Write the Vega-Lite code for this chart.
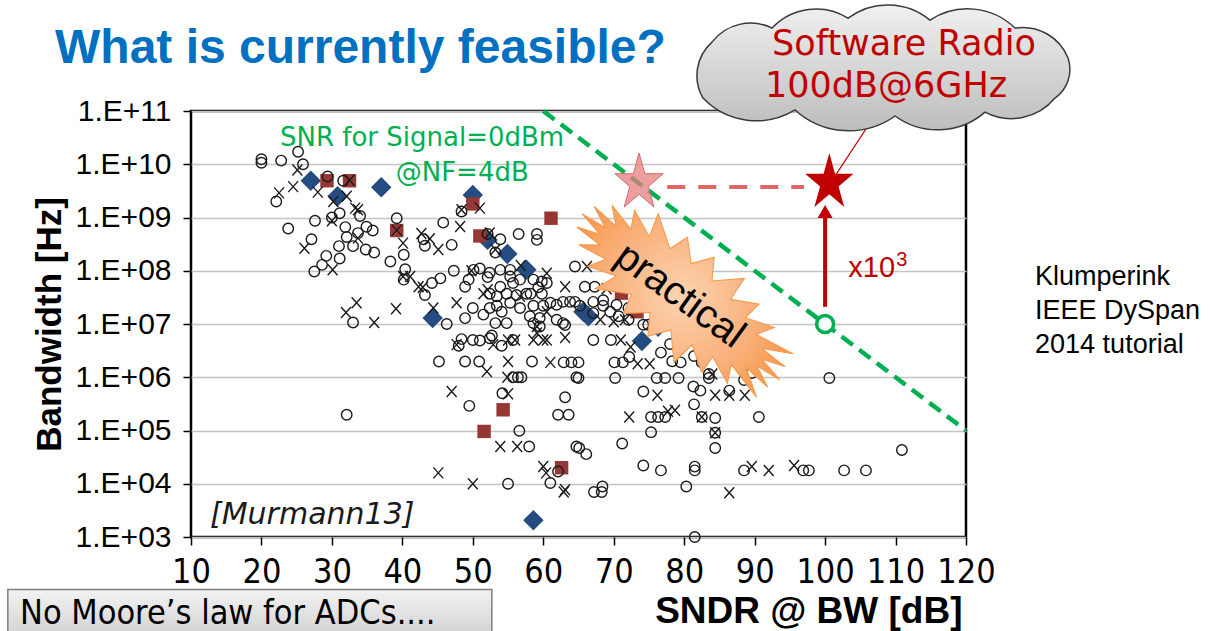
{
  "$schema": "https://vega.github.io/schema/vega-lite/v6.json",
  "width": 775,
  "height": 426,
  "autosize": {"type": "none"},
  "padding": {"left": 191, "top": 111, "right": 248, "bottom": 94},
  "background": "white",
  "config": {
    "view": {"stroke": "#000000", "strokeWidth": 2.5},
    "axis": {"domain": false, "labelColor": "#000000", "tickColor": "#000000", "titleColor": "#000000", "labelFlush": false, "labelOverlap": false, "labelBound": false}
  },
  "datasets": {
    "adc": [
      {"snr":27.0,"bw":4.9e9,"t":"d"},{"snr":37.0,"bw":3.7e9,"t":"d"},{"snr":30.8,"bw":2.5e9,"t":"d"},{"snr":50.0,"bw":2.65e9,"t":"d"},{"snr":52.1,"bw":3.8e8,"t":"d"},{"snr":54.9,"bw":2.07e8,"t":"d"},{"snr":57.6,"bw":1.04e8,"t":"d"},{"snr":44.3,"bw":1.29e7,"t":"d"},{"snr":58.6,"bw":2.06e3,"t":"d"},{"snr":74.0,"bw":4.8e6,"t":"d"},{"snr":76.3,"bw":8.9e6,"t":"d"},{"snr":65.7,"bw":1.7e7,"t":"d"},{"snr":66.4,"bw":1.4e7,"t":"d"},
      {"snr":29.3,"bw":4.9e9,"t":"s"},{"snr":32.5,"bw":4.9e9,"t":"s"},{"snr":39.2,"bw":5.7e8,"t":"s"},{"snr":50.0,"bw":1.8e9,"t":"s"},{"snr":61.1,"bw":9.7e8,"t":"s"},{"snr":51.0,"bw":4.5e8,"t":"s"},{"snr":54.3,"bw":2.45e5,"t":"s"},{"snr":51.6,"bw":9.6e4,"t":"s"},{"snr":62.6,"bw":2.0e4,"t":"s"},{"snr":71.1,"bw":3.8e7,"t":"s"},{"snr":73.3,"bw":1.7e7,"t":"s"},
      {"snr":20.0,"bw":1.24e10,"t":"o"},{"snr":20.0,"bw":1.07e10,"t":"o"},{"snr":22.8,"bw":1.17e10,"t":"o"},{"snr":25.2,"bw":1.72e10,"t":"o"},{"snr":25.9,"bw":1.0e10,"t":"o"},{"snr":29.4,"bw":5.9e9,"t":"o"},{"snr":31.6,"bw":4.9e9,"t":"o"},{"snr":22.1,"bw":2.0e9,"t":"o"},{"snr":31.1,"bw":1.2e9,"t":"o"},{"snr":34.0,"bw":1.07e9,"t":"o"},{"snr":27.6,"bw":8.7e8,"t":"o"},{"snr":30.0,"bw":1.0e9,"t":"o"},{"snr":39.2,"bw":9.7e8,"t":"o"},{"snr":23.8,"bw":6.2e8,"t":"o"},{"snr":31.9,"bw":6.6e8,"t":"o"},{"snr":34.9,"bw":6.7e8,"t":"o"},{"snr":35.8,"bw":5.7e8,"t":"o"},{"snr":33.7,"bw":5.1e8,"t":"o"},{"snr":32.1,"bw":4.3e8,"t":"o"},{"snr":27.1,"bw":3.9e8,"t":"o"},{"snr":33.0,"bw":2.9e8,"t":"o"},{"snr":31.0,"bw":2.9e8,"t":"o"},{"snr":34.8,"bw":2.5e8,"t":"o"},{"snr":36.0,"bw":2.2e8,"t":"o"},{"snr":31.1,"bw":1.7e8,"t":"o"},{"snr":29.2,"bw":1.9e8,"t":"o"},{"snr":28.6,"bw":1.29e8,"t":"o"},{"snr":27.5,"bw":9.7e7,"t":"o"},{"snr":38.3,"bw":1.49e8,"t":"o"},{"snr":40.4,"bw":1.07e8,"t":"o"},{"snr":33.0,"bw":1.07e7,"t":"o"},{"snr":32.1,"bw":1.98e5,"t":"o"},
      {"snr":48.4,"bw":1.3e9,"t":"o"},{"snr":45.8,"bw":8.0e8,"t":"o"},{"snr":52.1,"bw":4.9e8,"t":"o"},{"snr":53.9,"bw":3.9e8,"t":"o"},{"snr":56.5,"bw":4.9e8,"t":"o"},{"snr":59.1,"bw":4.9e8,"t":"o"},{"snr":59.1,"bw":3.8e8,"t":"o"},{"snr":53.2,"bw":2.2e8,"t":"o"},{"snr":47.0,"bw":3.06e8,"t":"o"},{"snr":43.0,"bw":3.9e8,"t":"o"},{"snr":43.2,"bw":2.95e8,"t":"o"},{"snr":40.2,"bw":2.0e8,"t":"o"},{"snr":40.2,"bw":6.8e7,"t":"o"},{"snr":43.2,"bw":3.5e7,"t":"o"},{"snr":44.2,"bw":5.9e7,"t":"o"},{"snr":45.4,"bw":7.2e7,"t":"o"},{"snr":47.3,"bw":1.0e8,"t":"o"},{"snr":51.0,"bw":1.1e8,"t":"o"},{"snr":52.1,"bw":7.6e7,"t":"o"},{"snr":49.4,"bw":6.8e7,"t":"o"},{"snr":48.9,"bw":5.0e7,"t":"o"},{"snr":53.9,"bw":1.04e8,"t":"o"},{"snr":55.3,"bw":7.8e7,"t":"o"},{"snr":56.7,"bw":6.8e7,"t":"o"},{"snr":58.6,"bw":6.8e7,"t":"o"},{"snr":60.5,"bw":5.9e7,"t":"o"},{"snr":59.3,"bw":4.9e7,"t":"o"},{"snr":46.3,"bw":1.0e7,"t":"o"},{"snr":50.0,"bw":2.0e7,"t":"o"},{"snr":48.9,"bw":1.29e7,"t":"o"},{"snr":51.5,"bw":1.5e7,"t":"o"},{"snr":53.9,"bw":5.0e7,"t":"o"},{"snr":54.8,"bw":3.7e7,"t":"o"},{"snr":53.4,"bw":3.3e7,"t":"o"},{"snr":56.2,"bw":3.5e7,"t":"o"},{"snr":57.6,"bw":3.7e7,"t":"o"},{"snr":55.3,"bw":2.5e7,"t":"o"},{"snr":53.4,"bw":2.2e7,"t":"o"},{"snr":52.4,"bw":2.0e7,"t":"o"},{"snr":56.7,"bw":2.0e7,"t":"o"},{"snr":58.6,"bw":2.2e7,"t":"o"},{"snr":54.1,"bw":1.7e7,"t":"o"},{"snr":54.8,"bw":1.04e7,"t":"o"},{"snr":53.2,"bw":1.04e7,"t":"o"},{"snr":58.6,"bw":1.04e7,"t":"o"},{"snr":59.5,"bw":9.0e6,"t":"o"},{"snr":61.9,"bw":1.2e7,"t":"o"},{"snr":62.8,"bw":1.04e7,"t":"o"},{"snr":48.4,"bw":5.2e6,"t":"o"},{"snr":48.0,"bw":3.9e6,"t":"o"},{"snr":51.0,"bw":4.9e6,"t":"o"},{"snr":52.7,"bw":6.1e6,"t":"o"},{"snr":54.1,"bw":3.9e6,"t":"o"},{"snr":63.1,"bw":9.6e6,"t":"o"},{"snr":45.2,"bw":1.98e6,"t":"o"},{"snr":48.9,"bw":1.98e6,"t":"o"},{"snr":50.9,"bw":1.98e6,"t":"o"},{"snr":58.4,"bw":1.98e6,"t":"o"},{"snr":62.9,"bw":1.9e6,"t":"o"},{"snr":64.0,"bw":1.9e6,"t":"o"},{"snr":65.0,"bw":1.9e6,"t":"o"},{"snr":55.7,"bw":1.0e6,"t":"o"},{"snr":56.4,"bw":1.0e6,"t":"o"},{"snr":56.9,"bw":1.0e6,"t":"o"},{"snr":64.7,"bw":1.0e6,"t":"o"},{"snr":54.2,"bw":5.0e5,"t":"o"},{"snr":63.1,"bw":4.2e5,"t":"o"},{"snr":49.5,"bw":2.9e5,"t":"o"},{"snr":62.1,"bw":1.98e5,"t":"o"},{"snr":63.6,"bw":1.98e5,"t":"o"},{"snr":56.6,"bw":9.9e4,"t":"o"},{"snr":58.0,"bw":5.0e4,"t":"o"},{"snr":64.7,"bw":5.0e4,"t":"o"},{"snr":62.1,"bw":1.7e4,"t":"o"},{"snr":61.0,"bw":1.03e4,"t":"o"},{"snr":55.0,"bw":1.0e4,"t":"o"},
      {"snr":100.6,"bw":9.7e5,"t":"o"},{"snr":110.9,"bw":4.3e4,"t":"o"},{"snr":102.7,"bw":1.78e4,"t":"o"},{"snr":105.8,"bw":1.78e4,"t":"o"},{"snr":96.9,"bw":1.78e4,"t":"o"},{"snr":97.7,"bw":1.78e4,"t":"o"},{"snr":88.5,"bw":1.78e4,"t":"o"},{"snr":81.5,"bw":2.1e4,"t":"o"},{"snr":81.5,"bw":1.78e4,"t":"o"},{"snr":76.7,"bw":1.78e4,"t":"o"},{"snr":74.2,"bw":2.2e4,"t":"o"},{"snr":80.3,"bw":8.9e3,"t":"o"},{"snr":67.2,"bw":7.0e3,"t":"o"},{"snr":68.3,"bw":7.0e3,"t":"o"},{"snr":68.4,"bw":8.9e3,"t":"o"},{"snr":81.5,"bw":1.0e3,"t":"o"},{"snr":71.2,"bw":5.7e4,"t":"o"},{"snr":65.1,"bw":4.7e4,"t":"o"},{"snr":66.1,"bw":3.6e4,"t":"o"},{"snr":84.4,"bw":4.7e4,"t":"o"},{"snr":84.4,"bw":9.1e4,"t":"o"},{"snr":82.5,"bw":1.79e5,"t":"o"},{"snr":84.4,"bw":1.72e5,"t":"o"},{"snr":75.3,"bw":9.3e4,"t":"o"},{"snr":90.6,"bw":1.79e5,"t":"o"},{"snr":75.3,"bw":1.79e5,"t":"o"},{"snr":76.3,"bw":1.79e5,"t":"o"},{"snr":77.3,"bw":1.79e5,"t":"o"},{"snr":81.4,"bw":3.1e5,"t":"o"},{"snr":74.2,"bw":5.4e5,"t":"o"},{"snr":82.3,"bw":5.6e5,"t":"o"},{"snr":86.4,"bw":5.6e5,"t":"o"},{"snr":76.1,"bw":9.7e5,"t":"o"},{"snr":77.3,"bw":9.7e5,"t":"o"},{"snr":79.2,"bw":9.7e5,"t":"o"},{"snr":83.5,"bw":9.7e5,"t":"o"},{"snr":83.5,"bw":1.15e6,"t":"o"},{"snr":88.5,"bw":8.9e5,"t":"o"},{"snr":89.6,"bw":1.2e6,"t":"o"},{"snr":65.0,"bw":9.7e5,"t":"o"},{"snr":70.2,"bw":9.7e5,"t":"o"},{"snr":70.1,"bw":1.9e6,"t":"o"},{"snr":71.3,"bw":1.9e6,"t":"o"},{"snr":72.2,"bw":2.4e6,"t":"o"},{"snr":78.3,"bw":2.0e6,"t":"o"},{"snr":79.5,"bw":1.9e6,"t":"o"},{"snr":81.4,"bw":2.5e6,"t":"o"},{"snr":82.5,"bw":1.9e6,"t":"o"},{"snr":85.4,"bw":2.4e6,"t":"o"},{"snr":87.4,"bw":1.9e6,"t":"o"},{"snr":67.1,"bw":5.0e6,"t":"o"},{"snr":69.6,"bw":5.0e6,"t":"o"},{"snr":76.7,"bw":2.9e6,"t":"o"},{"snr":78.0,"bw":4.2e6,"t":"o"},{"snr":80.4,"bw":5.8e6,"t":"o"},
      {"snr":64.5,"bw":1.2e8,"t":"o"},{"snr":65.9,"bw":5.0e7,"t":"o"},{"snr":67.3,"bw":5.0e7,"t":"o"},{"snr":62.8,"bw":2.6e7,"t":"o"},{"snr":63.8,"bw":2.6e7,"t":"o"},{"snr":64.5,"bw":2.6e7,"t":"o"},{"snr":67.1,"bw":2.6e7,"t":"o"},{"snr":68.5,"bw":2.8e7,"t":"o"},{"snr":67.1,"bw":1.6e7,"t":"o"},{"snr":69.5,"bw":1.7e7,"t":"o"},{"snr":70.7,"bw":1.4e7,"t":"o"},{"snr":72.1,"bw":2.0e7,"t":"o"},{"snr":72.1,"bw":1.2e7,"t":"o"},{"snr":74.2,"bw":9.7e6,"t":"o"},{"snr":74.9,"bw":9.7e6,"t":"o"},{"snr":81.3,"bw":6.7e5,"t":"o"},{"snr":50.1,"bw":1.04e8,"t":"o"},{"snr":52.4,"bw":9.2e7,"t":"o"},{"snr":55.3,"bw":1.04e8,"t":"o"},{"snr":55.7,"bw":5.9e7,"t":"o"},{"snr":59.8,"bw":6.3e7,"t":"o"},{"snr":52.4,"bw":3.7e7,"t":"o"},{"snr":58.2,"bw":3.7e7,"t":"o"},{"snr":59.8,"bw":3.7e7,"t":"o"},{"snr":60.0,"bw":2.2e7,"t":"o"},{"snr":61.0,"bw":2.5e7,"t":"o"},{"snr":61.9,"bw":2.3e7,"t":"o"},{"snr":65.2,"bw":2.2e7,"t":"o"},{"snr":68.5,"bw":2.2e7,"t":"o"},{"snr":70.4,"bw":2.3e7,"t":"o"},{"snr":58.1,"bw":1.4e7,"t":"o"},{"snr":59.5,"bw":1.3e7,"t":"o"},{"snr":50.0,"bw":5.0e6,"t":"o"},{"snr":52.4,"bw":5.4e6,"t":"o"},{"snr":55.7,"bw":5.0e6,"t":"o"},{"snr":77.2,"bw":1.35e7,"t":"o"},
      {"snr":25.1,"bw":7.8e9,"t":"x"},{"snr":32.5,"bw":5.0e9,"t":"x"},{"snr":24.5,"bw":3.8e9,"t":"x"},{"snr":22.5,"bw":2.9e9,"t":"x"},{"snr":28.0,"bw":3.0e9,"t":"x"},{"snr":32.1,"bw":2.5e9,"t":"x"},{"snr":30.2,"bw":2.0e9,"t":"x"},{"snr":33.3,"bw":1.5e9,"t":"x"},{"snr":33.7,"bw":1.4e9,"t":"x"},{"snr":30.0,"bw":8.7e8,"t":"x"},{"snr":39.2,"bw":5.8e8,"t":"x"},{"snr":33.7,"bw":4.1e8,"t":"x"},{"snr":26.1,"bw":2.65e8,"t":"x"},{"snr":30.1,"bw":1.04e8,"t":"x"},{"snr":40.1,"bw":3.3e8,"t":"x"},{"snr":40.1,"bw":7.8e7,"t":"x"},{"snr":33.5,"bw":2.5e7,"t":"x"},{"snr":32.0,"bw":1.64e7,"t":"x"},{"snr":36.0,"bw":1.07e7,"t":"x"},{"snr":39.1,"bw":1.93e7,"t":"x"},
      {"snr":51.0,"bw":1.5e9,"t":"x"},{"snr":48.4,"bw":1.4e9,"t":"x"},{"snr":48.2,"bw":6.8e8,"t":"x"},{"snr":52.4,"bw":5.1e8,"t":"x"},{"snr":53.2,"bw":2.5e8,"t":"x"},{"snr":45.1,"bw":2.5e8,"t":"x"},{"snr":43.9,"bw":4.0e8,"t":"x"},{"snr":42.7,"bw":5.0e8,"t":"x"},{"snr":41.1,"bw":7.8e7,"t":"x"},{"snr":42.3,"bw":5.0e7,"t":"x"},{"snr":42.9,"bw":4.9e7,"t":"x"},{"snr":49.8,"bw":1.0e8,"t":"x"},{"snr":52.1,"bw":4.4e7,"t":"x"},{"snr":60.5,"bw":9.0e7,"t":"x"},{"snr":63.1,"bw":5.0e7,"t":"x"},{"snr":44.4,"bw":2.0e7,"t":"x"},{"snr":47.7,"bw":2.5e7,"t":"x"},{"snr":60.5,"bw":1.7e7,"t":"x"},{"snr":59.1,"bw":6.8e6,"t":"x"},{"snr":60.0,"bw":5.0e6,"t":"x"},{"snr":47.7,"bw":4.1e6,"t":"x"},{"snr":52.9,"bw":4.1e6,"t":"x"},{"snr":55.0,"bw":5.0e6,"t":"x"},{"snr":56.0,"bw":5.0e6,"t":"x"},{"snr":58.6,"bw":5.0e6,"t":"x"},{"snr":60.5,"bw":5.0e6,"t":"x"},{"snr":63.1,"bw":5.6e6,"t":"x"},{"snr":55.0,"bw":1.98e6,"t":"x"},{"snr":61.0,"bw":1.9e6,"t":"x"},{"snr":52.0,"bw":1.28e6,"t":"x"},{"snr":54.9,"bw":1.0e6,"t":"x"},{"snr":47.0,"bw":5.4e5,"t":"x"},{"snr":55.0,"bw":4.9e5,"t":"x"},{"snr":53.9,"bw":5.0e4,"t":"x"},{"snr":56.3,"bw":5.0e4,"t":"x"},{"snr":60.0,"bw":2.1e4,"t":"x"},{"snr":60.4,"bw":1.6e4,"t":"x"},{"snr":63.1,"bw":7.7e3,"t":"x"},{"snr":45.1,"bw":1.6e4,"t":"x"},{"snr":50.0,"bw":1.0e4,"t":"x"},
      {"snr":95.6,"bw":2.2e4,"t":"x"},{"snr":92.0,"bw":1.78e4,"t":"x"},{"snr":89.6,"bw":2.1e4,"t":"x"},{"snr":86.4,"bw":6.8e3,"t":"x"},{"snr":62.9,"bw":7.0e3,"t":"x"},{"snr":84.4,"bw":9.1e4,"t":"x"},{"snr":82.5,"bw":1.79e5,"t":"x"},{"snr":72.2,"bw":1.79e5,"t":"x"},{"snr":77.7,"bw":2.3e5,"t":"x"},{"snr":78.7,"bw":2.4e5,"t":"x"},{"snr":76.2,"bw":4.6e5,"t":"x"},{"snr":84.4,"bw":4.6e5,"t":"x"},{"snr":86.4,"bw":4.6e5,"t":"x"},{"snr":88.6,"bw":4.6e5,"t":"x"},{"snr":84.0,"bw":1.15e6,"t":"x"},{"snr":73.4,"bw":1.8e6,"t":"x"},{"snr":75.1,"bw":1.8e6,"t":"x"},{"snr":71.0,"bw":5.0e6,"t":"x"},{"snr":72.4,"bw":3.7e6,"t":"x"},
      {"snr":66.2,"bw":1.2e8,"t":"x"},{"snr":69.0,"bw":4.6e7,"t":"x"},{"snr":68.1,"bw":1.2e7,"t":"x"},{"snr":70.0,"bw":1.1e7,"t":"x"},{"snr":71.6,"bw":1.2e7,"t":"x"},{"snr":51.5,"bw":3.7e7,"t":"x"},{"snr":56.7,"bw":3.3e7,"t":"x"},{"snr":56.8,"bw":1.25e8,"t":"x"},{"snr":59.1,"bw":9.0e6,"t":"x"}
    ]
  },
  "encoding": {
    "x": {
      "field": "snr", "type": "quantitative",
      "scale": {"domain": [10, 120], "nice": false, "zero": false},
      "axis": {
        "values": [10, 20, 30, 40, 50, 60, 70, 80, 90, 100, 110, 120],
        "grid": false, "tickSize": 8, "tickWidth": 1.5,
        "labelFont": "Liberation Sans Narrow, DejaVu Sans Condensed, sans-serif", "labelFontSize": 34, "labelPadding": 10,
        "title": "SNDR @ BW [dB]", "titleFont": "Liberation Sans", "titleFontSize": 37, "titleFontWeight": "bold",
        "titleX": 771, "titleY": 85, "titleAlign": "right", "titleBaseline": "alphabetic"
      }
    },
    "y": {
      "field": "bw", "type": "quantitative",
      "scale": {"type": "log", "domain": [1000, 100000000000], "nice": false},
      "axis": {
        "values": [1000, 10000, 100000, 1000000, 10000000, 100000000, 1000000000, 10000000000, 100000000000],
        "labelExpr": "'1.E+' + format(log(datum.value)/LN10, '02d')",
        "grid": true, "gridColor": "#C4C4C4", "gridWidth": 1.5,
        "tickSize": 8, "tickWidth": 1.5,
        "labelFont": "Liberation Sans", "labelFontSize": 30, "labelPadding": 12,
        "title": "Bandwidth [Hz]", "titleFont": "Liberation Sans", "titleFontSize": 35, "titleFontWeight": "bold",
        "titleAngle": -90, "titleX": -131, "titleY": 213, "titleAlign": "center", "titleBaseline": "alphabetic"
      }
    }
  },
  "layer": [
    {"data": {"name": "adc"}, "transform": [{"filter": "datum.t === 'd'"}], "mark": {"type": "point", "shape": "diamond", "filled": true, "color": "#254C80", "size": 420, "opacity": 1}},
    {"data": {"name": "adc"}, "transform": [{"filter": "datum.t === 's'"}], "mark": {"type": "point", "shape": "square", "filled": true, "color": "#953735", "size": 180, "opacity": 1}},
    {"data": {"name": "adc"}, "transform": [{"filter": "datum.t === 'o'"}], "mark": {"type": "point", "shape": "circle", "filled": false, "stroke": "#1a1a1a", "strokeWidth": 1.4, "size": 110, "opacity": 1}},
    {"data": {"name": "adc"}, "transform": [{"filter": "datum.t === 'x'"}], "mark": {"type": "point", "shape": "M-0.9,-1L0.9,1M-0.9,1L0.9,-1", "filled": false, "stroke": "#1a1a1a", "strokeWidth": 1.4, "size": 121, "opacity": 1}},
    {"data": {"values": [{"snr": 79.55, "bw": 32400000}]},
     "mark": {"type": "point", "shape": "M1,0L0.793,0.033L0.966,0.104L0.739,0.096L0.95,0.22L0.635,0.152L0.707,0.283L0.487,0.198L0.5,0.346L0.306,0.231L0.285,0.425L0.105,0.248L0,0.4L-0.105,0.248L-0.259,0.386L-0.306,0.231L-0.55,0.38L-0.487,0.198L-0.707,0.283L-0.635,0.152L-0.866,0.2L-0.739,0.096L-0.966,0.104L-0.793,0.033L-1,0L-0.793,-0.033L-0.966,-0.104L-0.739,-0.096L-0.866,-0.2L-0.635,-0.152L-0.707,-0.283L-0.487,-0.198L-0.55,-0.38L-0.306,-0.231L-0.259,-0.386L-0.105,-0.248L0,-0.4L0.105,-0.248L0.285,-0.425L0.306,-0.231L0.5,-0.346L0.487,-0.198L0.707,-0.283L0.635,-0.152L0.95,-0.22L0.739,-0.096L0.966,-0.104L0.793,-0.033Z",
      "size": 66564, "angle": 40, "filled": true, "opacity": 1,
      "fill": {"gradient": "radial", "stops": [{"offset": 0, "color": "#FCD3B0"}, {"offset": 0.6, "color": "#F9B07A"}, {"offset": 1, "color": "#F79646"}]},
      "stroke": "#F79646", "strokeWidth": 1}},
    {"data": {"values": [{"snr": 79.4, "bw": 33800000, "label": "practical"}]},
     "mark": {"type": "text", "font": "Liberation Sans", "fontSize": 40, "angle": 36, "align": "center", "baseline": "middle", "color": "#000000"},
     "encoding": {"text": {"field": "label"}}},
    {"data": {"values": [{"snr": 60, "bw": 100000000000, "snr2": 120, "bw2": 100000}]},
     "mark": {"type": "rule", "color": "#00B050", "strokeWidth": 4.5, "strokeDash": [14, 8]},
     "encoding": {"x2": {"field": "snr2"}, "y2": {"field": "bw2"}}},
    {"data": {"values": [{"snr": 100, "bw": 10000000}]},
     "mark": {"type": "point", "shape": "circle", "filled": false, "fill": "#ffffff", "stroke": "#00B050", "strokeWidth": 3.5, "size": 289, "opacity": 1}},
    {"data": {"values": [{"snr": 77.6, "bw": 3750000000, "snr2": 97.0, "bw2": 3750000000}]},
     "mark": {"type": "rule", "color": "#E06666", "strokeWidth": 4, "strokeDash": [18, 13]},
     "encoding": {"x2": {"field": "snr2"}, "y2": {"field": "bw2"}}},
    {"data": {"values": [{"snr": 73.6, "bw": 4460000000}]},
     "mark": {"type": "point", "shape": "M0,-1L0.191,-0.309L0.808,-0.309L0.309,0.118L0.5,0.809L0,0.382L-0.5,0.809L-0.309,0.118L-0.808,-0.309L-0.191,-0.309Z", "size": 3570, "filled": true, "fill": "#E57F7F", "fillOpacity": 0.75, "stroke": "#D46A6A", "strokeWidth": 1, "opacity": 1}},
    {"data": {"values": [{"snr": 101.4, "bw": 6000000000, "snr2": 108.5, "bw2": 161000000000}]},
     "mark": {"type": "rule", "color": "#C00000", "strokeWidth": 1.2},
     "encoding": {"x2": {"field": "snr2"}, "y2": {"field": "bw2"}}},
    {"data": {"values": [{"snr": 100.6, "bw": 4460000000}]},
     "mark": {"type": "point", "shape": "M0,-1L0.191,-0.309L0.808,-0.309L0.309,0.118L0.5,0.809L0,0.382L-0.5,0.809L-0.309,0.118L-0.808,-0.309L-0.191,-0.309Z", "size": 3570, "filled": true, "color": "#C00000", "opacity": 1}},
    {"data": {"values": [{"snr": 100, "bw": 21000000, "snr2": 100, "bw2": 1070000000}]},
     "mark": {"type": "rule", "color": "#C00000", "strokeWidth": 4},
     "encoding": {"x2": {"field": "snr2"}, "y2": {"field": "bw2"}}},
    {"data": {"values": [{"snr": 100, "bw": 1300000000}]},
     "mark": {"type": "point", "shape": "triangle-up", "size": 225, "filled": true, "color": "#C00000", "opacity": 1}},
    {"data": {"values": [{"snr": 103.3, "bw": 77000000, "label": "x10"}]},
     "mark": {"type": "text", "font": "Liberation Sans", "fontSize": 29, "align": "left", "baseline": "alphabetic", "color": "#C00000"},
     "encoding": {"text": {"field": "label"}}},
    {"data": {"values": [{"snr": 110.1, "bw": 124000000, "label": "3"}]},
     "mark": {"type": "text", "font": "Liberation Sans", "fontSize": 20, "align": "left", "baseline": "alphabetic", "color": "#C00000"},
     "encoding": {"text": {"field": "label"}}},
    {"data": {"values": [{"snr": 108.08, "bw": 641000000000}]},
     "mark": {"type": "point", "shape": "M-0.918,0.154A0.23,0.23 0 0 1 -0.872,-0.133A0.25,0.25 0 0 1 -0.564,-0.205A0.31,0.31 0 0 1 -0.174,-0.256A0.34,0.34 0 0 1 0.246,-0.246A0.35,0.35 0 0 1 0.682,-0.205A0.25,0.25 0 0 1 0.954,-0.051A0.18,0.18 0 0 1 0.887,0.154A0.29,0.29 0 0 1 0.528,0.226A0.37,0.37 0 0 1 0.067,0.246A0.41,0.41 0 0 1 -0.446,0.215A0.38,0.38 0 0 1 -0.918,0.154Z",
      "size": 152100, "filled": true, "opacity": 1,
      "fill": {"gradient": "linear", "x1": 0, "y1": 0, "x2": 0, "y2": 1, "stops": [{"offset": 0, "color": "#F0F0F0"}, {"offset": 1, "color": "#BDBDBD"}]},
      "stroke": "#3A3A3A", "strokeWidth": 1.5}},
    {"data": {"values": [{"snr": 92.47, "bw": 1120000000000, "label": "Software Radio"}, {"snr": 91.48, "bw": 183000000000, "label": "100dB@6GHz"}]},
     "mark": {"type": "text", "font": "DejaVu Sans", "fontSize": 35, "align": "left", "baseline": "alphabetic", "color": "#C00000"},
     "encoding": {"text": {"field": "label"}}},
    {"data": {"values": [{"snr": 42.8, "bw": 22000000000, "label": "SNR for Signal=0dBm"}, {"snr": 48.5, "bw": 4860000000, "label": "@NF=4dB"}]},
     "mark": {"type": "text", "font": "DejaVu Sans", "fontSize": 26, "align": "center", "baseline": "alphabetic", "color": "#00B050"},
     "encoding": {"text": {"field": "label"}}},
    {"data": {"values": [{"snr": 12.7, "bw": 1780, "label": "[Murmann13]"}]},
     "mark": {"type": "text", "font": "DejaVu Sans", "fontStyle": "italic", "fontSize": 30, "align": "left", "baseline": "alphabetic", "color": "#1a1a1a"},
     "encoding": {"text": {"field": "label"}}},
    {"data": {"values": [{"snr": 129.8, "bw": 54300000, "label": "Klumperink\nIEEE DySpan\n2014 tutorial"}]},
     "mark": {"type": "text", "font": "Liberation Sans", "fontSize": 27, "lineHeight": 34, "lineBreak": "\n", "align": "left", "baseline": "alphabetic", "color": "#000000"},
     "encoding": {"text": {"field": "label"}}},
    {"data": {"values": [{"snr": -9.3, "bw": 795000000000, "label": "What is currently feasible?"}]},
     "mark": {"type": "text", "font": "Liberation Sans", "fontSize": 48, "fontWeight": "bold", "align": "left", "baseline": "alphabetic", "color": "#0070C0"},
     "encoding": {"text": {"field": "label"}}},
    {"data": {"values": [{"snr": -16, "snr2": 52.7, "bw": 103, "bw2": 11.9}]},
     "mark": {"type": "rect", "stroke": "#7F7F7F", "strokeWidth": 1.5, "opacity": 1,
      "fill": {"gradient": "linear", "x1": 0, "y1": 0, "x2": 0, "y2": 1, "stops": [{"offset": 0, "color": "#F2F2F2"}, {"offset": 1, "color": "#D0D0D0"}]}},
     "encoding": {"x2": {"field": "snr2"}, "y2": {"field": "bw2"}}},
    {"data": {"values": [{"snr": -14.27, "bw": 23.7, "label": "No Moore’s law for ADCs...."}]},
     "mark": {"type": "text", "font": "Liberation Sans Narrow, DejaVu Sans Condensed, sans-serif", "fontSize": 34, "align": "left", "baseline": "alphabetic", "color": "#000000"},
     "encoding": {"text": {"field": "label"}}}
  ]
}
